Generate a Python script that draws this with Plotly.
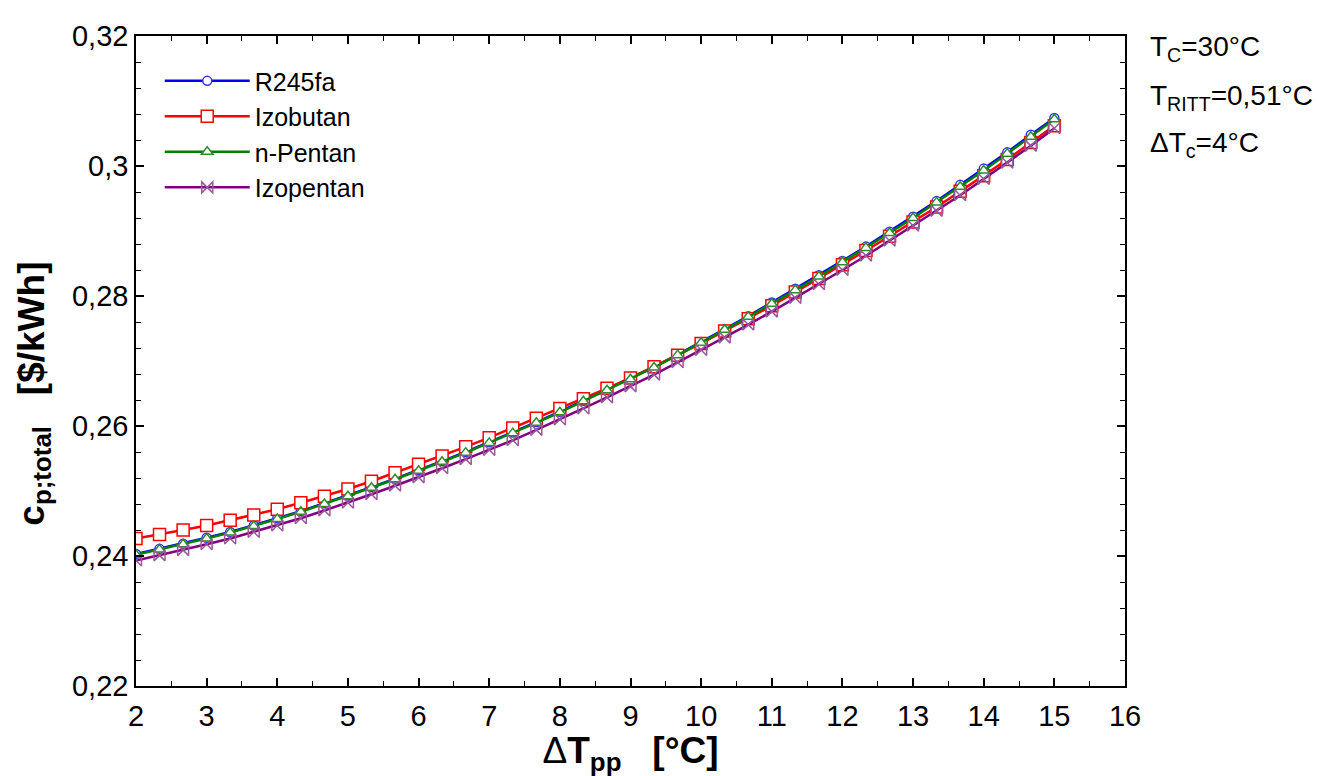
import plotly.graph_objects as go

x_vals = [2, 2.333, 2.667, 3, 3.333, 3.667, 4, 4.333, 4.667, 5, 5.333, 5.667,
          6, 6.333, 6.667, 7, 7.333, 7.667, 8, 8.333, 8.667, 9, 9.333, 9.667,
          10, 10.333, 10.667, 11, 11.333, 11.667, 12, 12.333, 12.667, 13,
          13.333, 13.667, 14, 14.333, 14.667, 15]

r245fa = [0.2403, 0.2411, 0.2419, 0.2428, 0.2437, 0.2447, 0.2458, 0.2469, 0.2481, 0.2493,
          0.2506, 0.2519, 0.2532, 0.2546, 0.2560, 0.2575, 0.2590, 0.2606, 0.2622, 0.2639,
          0.2656, 0.2673, 0.2691, 0.2710, 0.2729, 0.2749, 0.2769, 0.2790, 0.2811, 0.2832,
          0.2854, 0.2876, 0.2899, 0.2922, 0.2946, 0.2971, 0.2996, 0.3021, 0.3048, 0.3074]

izobutan = [0.2427, 0.2433, 0.2440, 0.2447, 0.2455, 0.2463, 0.2472, 0.2482, 0.2492, 0.2503,
            0.2515, 0.2528, 0.2541, 0.2554, 0.2568, 0.2582, 0.2597, 0.2612, 0.2627, 0.2642,
            0.2658, 0.2674, 0.2691, 0.2709, 0.2727, 0.2746, 0.2765, 0.2785, 0.2806, 0.2827,
            0.2848, 0.2870, 0.2892, 0.2914, 0.2937, 0.2961, 0.2985, 0.3010, 0.3036, 0.3062]

n_pentan = [0.2402, 0.2410, 0.2418, 0.2427, 0.2436, 0.2446, 0.2457, 0.2468, 0.2480, 0.2492,
            0.2505, 0.2518, 0.2531, 0.2545, 0.2559, 0.2574, 0.2589, 0.2605, 0.2621, 0.2638,
            0.2655, 0.2672, 0.2690, 0.2709, 0.2728, 0.2748, 0.2768, 0.2788, 0.2809, 0.2830,
            0.2852, 0.2874, 0.2897, 0.2920, 0.2944, 0.2968, 0.2993, 0.3019, 0.3045, 0.3072]

izopentan = [0.2393, 0.2401, 0.2409, 0.2418, 0.2427, 0.2437, 0.2447, 0.2458, 0.2470, 0.2482,
             0.2495, 0.2508, 0.2521, 0.2535, 0.2549, 0.2563, 0.2578, 0.2594, 0.2610, 0.2627,
             0.2644, 0.2661, 0.2679, 0.2698, 0.2717, 0.2736, 0.2756, 0.2776, 0.2797, 0.2818,
             0.2840, 0.2862, 0.2885, 0.2908, 0.2931, 0.2955, 0.2980, 0.3005, 0.3031, 0.3058]

series_names = ["R245fa", "Izobutan", "n-Pentan", "Izopentan"]
series_values = [r245fa, izobutan, n_pentan, izopentan]
line_colors = ["#0000FF", "#FF0000", "#008000", "#800080"]
marker_edge = ["#3333FF", "#FF0000", "#2E8B2E", "#9A5A9A"]
marker_symbols = ["circle", "square", "triangle-up", "bowtie-open"]
marker_sizes = [9, 12, 10, 11]

y_tick_vals = [0.22, 0.24, 0.26, 0.28, 0.30, 0.32]
y_tick_text = ["0,22", "0,24", "0,26", "0,28", "0,3", "0,32"]
x_tick_vals = list(range(2, 17))

FONT = "Liberation Sans, Arial, sans-serif"

fig = go.Figure()
for name, vals, lc, me, sym, sz in zip(series_names, series_values, line_colors,
                                       marker_edge, marker_symbols, marker_sizes):
    fig.add_trace(go.Scatter(
        x=x_vals, y=vals, name=name, mode="lines+markers",
        line=dict(color=lc, width=2.5),
        marker=dict(symbol=sym, size=sz, color="white" if "open" not in sym else me,
                    line=dict(color=me, width=1.5)),
    ))

axis_common = dict(
    showline=True, linecolor="black", linewidth=1.5, mirror="ticks",
    ticks="inside", ticklen=8, tickwidth=1.5, tickcolor="black",
    showgrid=False, zeroline=False,
    tickfont=dict(family=FONT, size=29, color="black"),
)

fig.update_xaxes(
    range=[2, 16], tickvals=x_tick_vals, ticklabelstandoff=3,
    minor=dict(ticks="inside", ticklen=5, tickwidth=1.2, tickcolor="black", dtick=0.5, showgrid=False),
    title=dict(text="<b><span style='font-weight:normal'>Δ</span>T<sub>pp</sub>&nbsp;&nbsp;&nbsp;[°C]</b>",
               font=dict(family=FONT, size=37, color="black"), standoff=6),
    **axis_common,
)
fig.update_yaxes(
    range=[0.22, 0.32], tickvals=y_tick_vals, ticktext=y_tick_text,
    minor=dict(ticks="inside", ticklen=5, tickwidth=1.2, tickcolor="black", dtick=0.004, showgrid=False),
    **axis_common,
)

# y-axis title (placed as rotated text, positioned like the reference)
fig.add_annotation(text="<b>c<sub>p;total</sub>&nbsp;&nbsp;&nbsp;[$/kWh]</b>",
                   xref="paper", yref="paper", x=-0.104, y=0.45,
                   xanchor="center", yanchor="middle", textangle=-90, showarrow=False,
                   font=dict(family=FONT, size=37, color="black"))

ann_texts = ["T<sub>C</sub>=30°C", "T<sub>RITT</sub>=0,51°C", "ΔT<sub>c</sub>=4°C"]
ann_y = [0.981, 0.906, 0.833]
for t, yy in zip(ann_texts, ann_y):
    fig.add_annotation(text=t, xref="paper", yref="paper", x=1.0235, y=yy,
                       xanchor="left", yanchor="middle", showarrow=False,
                       font=dict(family=FONT, size=28, color="black"))

fig.update_layout(
    width=1336, height=768,
    margin=dict(l=128, r=219, t=18, b=90),
    plot_bgcolor="white", paper_bgcolor="white",
    font=dict(family=FONT, color="black"),
    legend=dict(x=0.024, y=0.966, xanchor="left", yanchor="top",
                bgcolor="rgba(0,0,0,0)", borderwidth=0,
                font=dict(family=FONT, size=25, color="black"),
                itemwidth=85, tracegroupgap=0),
)

fig.write_html("out.html")
